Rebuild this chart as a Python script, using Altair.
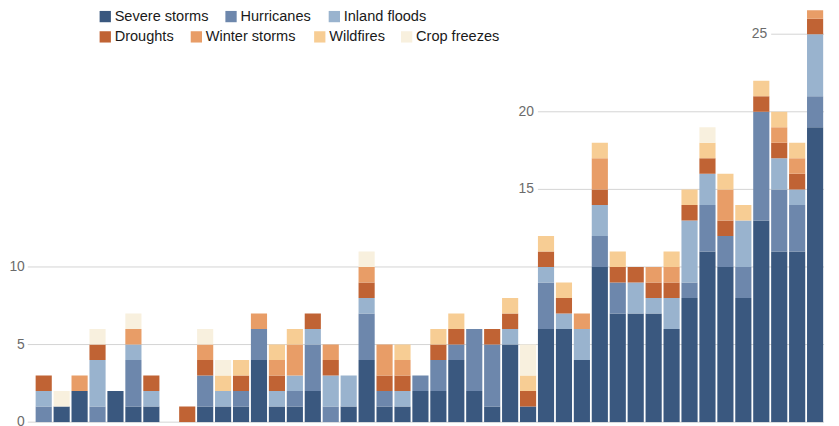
import altair as alt
import pandas as pd

years = list(range(1980, 2024))
categories = ["Severe storms", "Hurricanes", "Inland floods", "Droughts",
              "Winter storms", "Wildfires", "Crop freezes"]
colors = ["#3a587f", "#6d87ac", "#99b3ce", "#c06334", "#e89d67", "#f7cd94", "#f8f0de"]

severe = [0, 1, 2, 0, 2, 1, 1, 0, 0, 1,
          1, 1, 4, 1, 1, 2, 0, 1, 4, 1,
          1, 2, 2, 4, 2, 1, 5, 1, 6, 6,
          4, 10, 7, 7, 7, 6, 8, 11, 10, 8,
          13, 11, 11, 19]
hurricanes = [1, 0, 0, 1, 0, 3, 0, 0, 0, 2,
              0, 1, 2, 0, 1, 3, 1, 0, 3, 1,
              0, 1, 2, 1, 4, 4, 0, 0, 3, 0,
              0, 2, 2, 0, 0, 0, 1, 3, 2, 2,
              7, 4, 3, 2]
floods = [1, 0, 0, 3, 0, 1, 1, 0, 0, 0,
          1, 0, 0, 1, 1, 1, 2, 2, 1, 0,
          1, 0, 0, 0, 0, 0, 1, 0, 1, 1,
          2, 2, 0, 2, 1, 2, 4, 2, 0, 3,
          0, 2, 1, 4]
droughts = [1, 0, 0, 1, 0, 0, 1, 0, 1, 1,
            0, 1, 0, 1, 0, 1, 1, 0, 1, 1,
            1, 0, 1, 1, 0, 1, 1, 1, 1, 1,
            0, 1, 1, 1, 1, 1, 1, 1, 1, 0,
            1, 1, 1, 1]
winter = [0, 0, 1, 0, 0, 1, 0, 0, 0, 1,
          0, 0, 1, 1, 2, 0, 1, 0, 1, 2,
          1, 0, 0, 0, 0, 0, 0, 0, 0, 0,
          1, 2, 0, 0, 1, 1, 0, 0, 2, 0,
          0, 1, 1, 1]
wildfires = [0, 0, 0, 0, 0, 0, 0, 0, 0, 0,
             1, 1, 0, 1, 1, 0, 0, 0, 0, 0,
             1, 0, 1, 1, 0, 0, 1, 1, 1, 1,
             0, 1, 1, 0, 0, 1, 1, 1, 1, 1,
             1, 1, 1, 0]
freezes = [0, 1, 0, 1, 0, 1, 0, 0, 0, 1,
           1, 0, 0, 0, 0, 0, 0, 0, 1, 0,
           0, 0, 0, 0, 0, 0, 0, 2, 0, 0,
           0, 0, 0, 0, 0, 0, 0, 1, 0, 0,
           0, 0, 0, 0]
series = [severe, hurricanes, floods, droughts, winter, wildfires, freezes]

decade_ticks = [1980, 1990, 2000, 2010, 2020]
grid_low_vals = [0, 5, 10]
grid_high_vals = [15, 20, 25]
grid_high_start = [2008, 2008, 2021]

# legend layout (plot coordinates)
legend_text_x = [80.7, 207.7, 312, 80.7, 172.7, 297.3, 385]
legend_text_y = [6.5, 6.5, 6.5, 27, 27, 27, 27]

rows = []
for ci, (cat, vals) in enumerate(zip(categories, series)):
    for yr, v in zip(years, vals):
        if v:
            rows.append({"year": yr, "cat": cat, "idx": ci, "n": v})
df = pd.DataFrame(rows)

W, H = 797, 416
YMAX = 26.55
FONT = "Liberation Sans"

xscale = alt.Scale(domain=years, paddingInner=0.1, paddingOuter=0.05)
yscale = alt.Scale(domain=[0, YMAX], nice=False, zero=True)
cscale = alt.Scale(domain=categories, range=colors)

grid_low = pd.DataFrame({"v": grid_low_vals})
grid_high = pd.DataFrame({"v": grid_high_vals, "start": grid_high_start})

rule_low = alt.Chart(grid_low).mark_rule(color="#d3d3d3", strokeWidth=1).encode(
    x=alt.value(-7), x2=alt.value(W),
    y=alt.Y("v:Q", scale=yscale, axis=None),
)
rule_high = alt.Chart(grid_high).mark_rule(color="#d3d3d3", strokeWidth=1).encode(
    x=alt.X("start:O", scale=xscale, bandPosition=0, axis=None),
    x2=alt.value(W),
    y=alt.Y("v:Q", scale=yscale, axis=None),
)

bars = alt.Chart(df).mark_bar(clip=True).encode(
    x=alt.X("year:O", scale=xscale,
            axis=alt.Axis(values=decade_ticks, title=None, labelAngle=0,
                          tickSize=3, tickColor="#8c8c8c", domainColor="#8c8c8c",
                          domainWidth=1.3, labelColor="#666666", labelFontSize=14,
                          labelFont=FONT, grid=False)),
    y=alt.Y("n:Q", stack="zero", scale=yscale, axis=None),
    color=alt.Color("cat:N", scale=cscale, legend=None),
    order=alt.Order("idx:Q", sort="ascending"),
)

lab_low = alt.Chart(grid_low).mark_text(
    align="right", baseline="middle", fontSize=14, color="#6b6b6b", font=FONT
).encode(
    x=alt.value(-10),
    y=alt.Y("v:Q", scale=yscale, axis=None),
    text=alt.Text("v:Q"),
)
lab_high = alt.Chart(grid_high).mark_text(
    align="right", baseline="middle", fontSize=14, color="#6b6b6b", font=FONT, dx=-4
).encode(
    x=alt.X("start:O", scale=xscale, bandPosition=0, axis=None),
    y=alt.Y("v:Q", scale=yscale, axis=None),
    text=alt.Text("v:Q"),
)

leg = pd.DataFrame({"cat": categories, "tx": legend_text_x, "ty": legend_text_y})

leg_sq = alt.Chart(leg).transform_calculate(sx="datum.tx - 9.5").mark_square(
    size=130, opacity=1, filled=True
).encode(
    x=alt.X("sx:Q", scale=None, axis=None),
    y=alt.Y("ty:Q", scale=None, axis=None),
    color=alt.Color("cat:N", scale=cscale, legend=None),
)
leg_txt = alt.Chart(leg).mark_text(
    align="left", baseline="middle", fontSize=14.7, color="#1a1a1a", font=FONT
).encode(
    x=alt.X("tx:Q", scale=None, axis=None),
    y=alt.Y("ty:Q", scale=None, axis=None),
    text=alt.Text("cat:N"),
)

chart = alt.layer(rule_low, rule_high, bars, lab_low, lab_high, leg_sq, leg_txt).properties(
    width=W, height=H,
    autosize=alt.AutoSizeParams(type="none"),
    padding={"left": 27, "top": 0, "right": 7, "bottom": 30},
).configure(font=FONT).configure_view(stroke=None, strokeWidth=0)

chart.save("out.html", embed_options={"renderer": "svg", "actions": False})
